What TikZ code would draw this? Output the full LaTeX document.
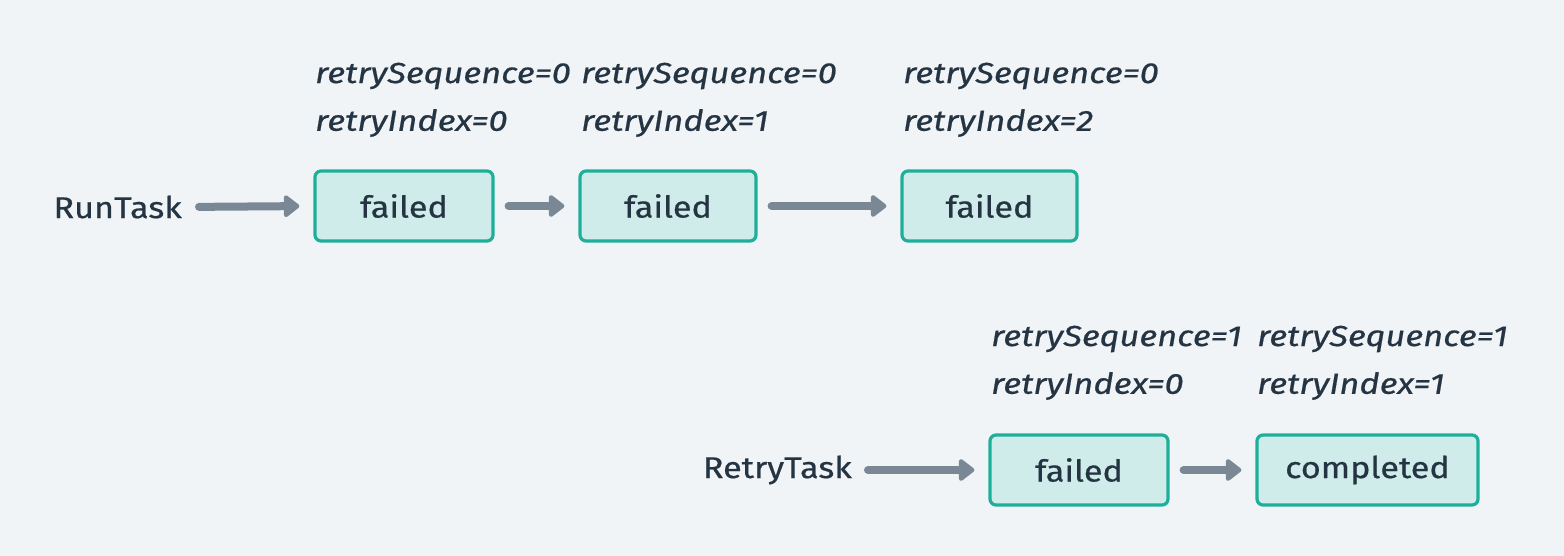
\documentclass[tikz,border=0pt]{standalone}
\usepackage{fontspec}
\setmainfont[FakeStretch=1.14,FakeBold=0.6]{Fira Sans}
\newfontfamily\lblfont[FakeStretch=1.19,FakeBold=0.6]{Fira Sans Italic}
\usetikzlibrary{arrows.meta}
\definecolor{bgc}{HTML}{F0F4F7}
\definecolor{boxfill}{HTML}{CFECEA}
\definecolor{boxdraw}{HTML}{1DAF9A}
\definecolor{arr}{HTML}{7A8794}
\definecolor{txt}{HTML}{253442}
\tikzset{
  x=1pt,y=-1pt,
  statebox/.style={draw=boxdraw,fill=boxfill,line width=3.2pt,rounded corners=6pt,minimum height=70pt,inner sep=0pt,text=txt,font=\fontsize{30}{36}\selectfont},
  lbl/.style={anchor=west,inner sep=0pt,text=txt,font=\fontsize{29}{34}\lblfont},
  start/.style={inner sep=0pt,text=txt,font=\fontsize{30}{36}\selectfont},
  flow/.style={draw=arr,line width=8pt,line cap=round,-{Triangle[length=17pt,width=25pt,round]},shorten >=14pt,shorten <=14pt}
}
\begin{document}
\begin{tikzpicture}
\fill[bgc] (0,0) rectangle (1564,556);
\useasboundingbox (0,0) rectangle (1564,556);
% row 1
\node[start,anchor=east] (run) at (182,207) {RunTask};
\node[statebox,minimum width=178pt] (b1) at (404,206) {failed};
\node[statebox,minimum width=176pt] (b2) at (668,206) {failed};
\node[statebox,minimum width=175pt] (b3) at (989.5,206) {failed};
\draw[flow,shorten <=17pt] (run.east) -- (b1.west);
\draw[flow] (b1.east) -- (b2.west);
\draw[flow] (b2.east) -- (b3.west);
\node[lbl] (l1a) at (315,76) {retrySequence=0};
\node[lbl] (l1b) at (315,123) {retryIndex=0};
\node[lbl] (l2a) at (581,76) {retrySequence=0};
\node[lbl] (l2b) at (581,123) {retryIndex=1};
\node[lbl] (l3a) at (903,76) {retrySequence=0};
\node[lbl] (l3b) at (903,123) {retryIndex=2};
% row 2
\node[start,anchor=east] (retry) at (852,470) {RetryTask};
\node[statebox,minimum width=178pt] (b4) at (1079,470) {failed};
\node[statebox,minimum width=221pt] (b5) at (1367.5,470) {completed};
\draw[flow,shorten <=16pt] (retry.east) -- (b4.west);
\draw[flow] (b4.east) -- (b5.west);
\node[lbl] (l4a) at (991,339) {retrySequence=1};
\node[lbl] (l4b) at (991,386) {retryIndex=0};
\node[lbl] (l5a) at (1257,339) {retrySequence=1};
\node[lbl] (l5b) at (1257,386) {retryIndex=1};
\end{tikzpicture}
\end{document}
